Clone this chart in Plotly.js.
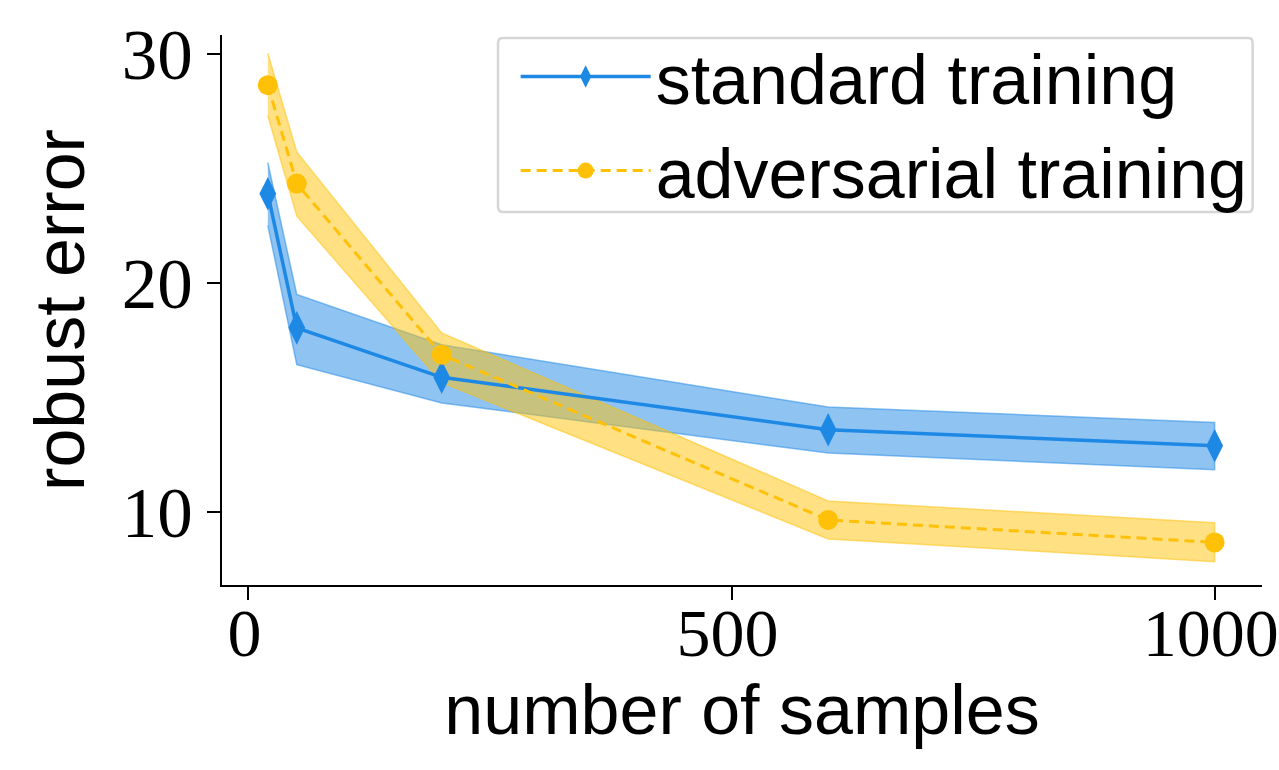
<!DOCTYPE html>
<html>
<head>
<meta charset="utf-8">
<script src="https://cdn.plot.ly/plotly-3.0.1.min.js"></script>
<style>html,body{margin:0;padding:0;background:#fff;}#chart{width:1279px;height:770px;}</style>
</head>
<body>
<div id="chart"></div>
<script>
// Data
const samples = [20, 50, 200, 600, 1000];
const standardMean  = [23.9, 18.04, 15.88, 13.59, 12.89];
const standardUpper = [25.26, 19.5, 17.3, 14.58, 13.91];
const standardLower = [22.52, 16.43, 14.76, 12.57, 11.84];
const adversarialMean  = [28.64, 24.34, 16.87, 9.65, 8.67];
const adversarialUpper = [30.04, 25.72, 17.82, 10.48, 9.53];
const adversarialLower = [27.3, 22.92, 15.65, 8.82, 7.83];
const seriesNames = ['standard training', 'adversarial training'];
const xTicks = [0, 500, 1000];
const yTicks = [10, 20, 30];

const blue = '#1E88E5';
const yellow = '#FFC107';

function band(upper, lower, color) {
  return {
    x: samples.concat(samples.slice().reverse()),
    y: upper.concat(lower.slice().reverse()),
    type: 'scatter', mode: 'lines', fill: 'toself',
    fillcolor: color, line: {color: color, width: 1.5},
    hoverinfo: 'skip', showlegend: false
  };
}

const traces = [
  band(standardUpper, standardLower, 'rgba(30,136,229,0.5)'),
  band(adversarialUpper, adversarialLower, 'rgba(255,193,7,0.5)'),
  {
    x: samples, y: standardMean, name: seriesNames[0],
    type: 'scatter', mode: 'lines+markers',
    line: {color: blue, width: 3.5},
    marker: {symbol: 'diamond-tall', size: 24, color: blue}
  },
  {
    x: samples, y: adversarialMean, name: seriesNames[1],
    type: 'scatter', mode: 'lines+markers',
    line: {color: yellow, width: 3, dash: '10px,6px'},
    marker: {symbol: 'circle', size: 20, color: yellow}
  }
];

const yTickFont = {family: 'Liberation Serif, DejaVu Serif, serif', size: 71, color: '#000'};
const xTickFont = {family: 'Liberation Serif, DejaVu Serif, serif', size: 68, color: '#000'};
const labelFont = {family: 'Liberation Sans, Noto Sans, sans-serif', size: 70, color: '#000'};

const layout = {
  width: 1279, height: 770,
  margin: {l: 222, r: 17, t: 35, b: 185},
  paper_bgcolor: '#fff', plot_bgcolor: '#fff',
  showlegend: true,
  xaxis: {
    range: [-27.4, 1049], tickvals: xTicks, ticktext: xTicks.map(String),
    showgrid: false, zeroline: false, showline: true, linecolor: '#000', linewidth: 2,
    ticks: 'outside', ticklen: 13, tickwidth: 2, tickcolor: '#000',
    tickfont: xTickFont, ticklabeloverflow: 'allow', ticklabelstandoff: -26, ticklabelshift: -4,
    title: {text: 'number of samples', font: labelFont, standoff: 2}
  },
  yaxis: {
    range: [6.81, 30.83], tickvals: yTicks, ticktext: yTicks.map(String),
    showgrid: false, zeroline: false, showline: true, linecolor: '#000', linewidth: 2,
    ticks: 'outside', ticklen: 13, tickwidth: 2, tickcolor: '#000',
    tickfont: yTickFont,
    title: {text: 'robust error', font: labelFont, standoff: 14}
  },
  legend: {
    x: 0.991, y: 1.019, xanchor: 'right', yanchor: 'top',
    bgcolor: 'rgba(255,255,255,0)', borderwidth: 0,
    font: labelFont, itemwidth: 130, tracegroupgap: 0
  },
  shapes: [{
    type: 'path', xref: 'paper', yref: 'paper', layer: 'below',
    path: 'M 0.27,0.9945 L 0.987,0.9945 Q 0.991,0.9945 0.991,0.985 L 0.991,0.688 Q 0.991,0.678 0.987,0.678 L 0.27,0.678 Q 0.2654,0.678 0.2654,0.688 L 0.2654,0.985 Q 0.2654,0.9945 0.27,0.9945 Z',
    line: {color: '#d6d6d6', width: 2.5}, fillcolor: 'rgba(255,255,255,0.8)'
  }]
};

Plotly.newPlot('chart', traces, layout, {displayModeBar: false, staticPlot: true});
</script>
</body>
</html>
